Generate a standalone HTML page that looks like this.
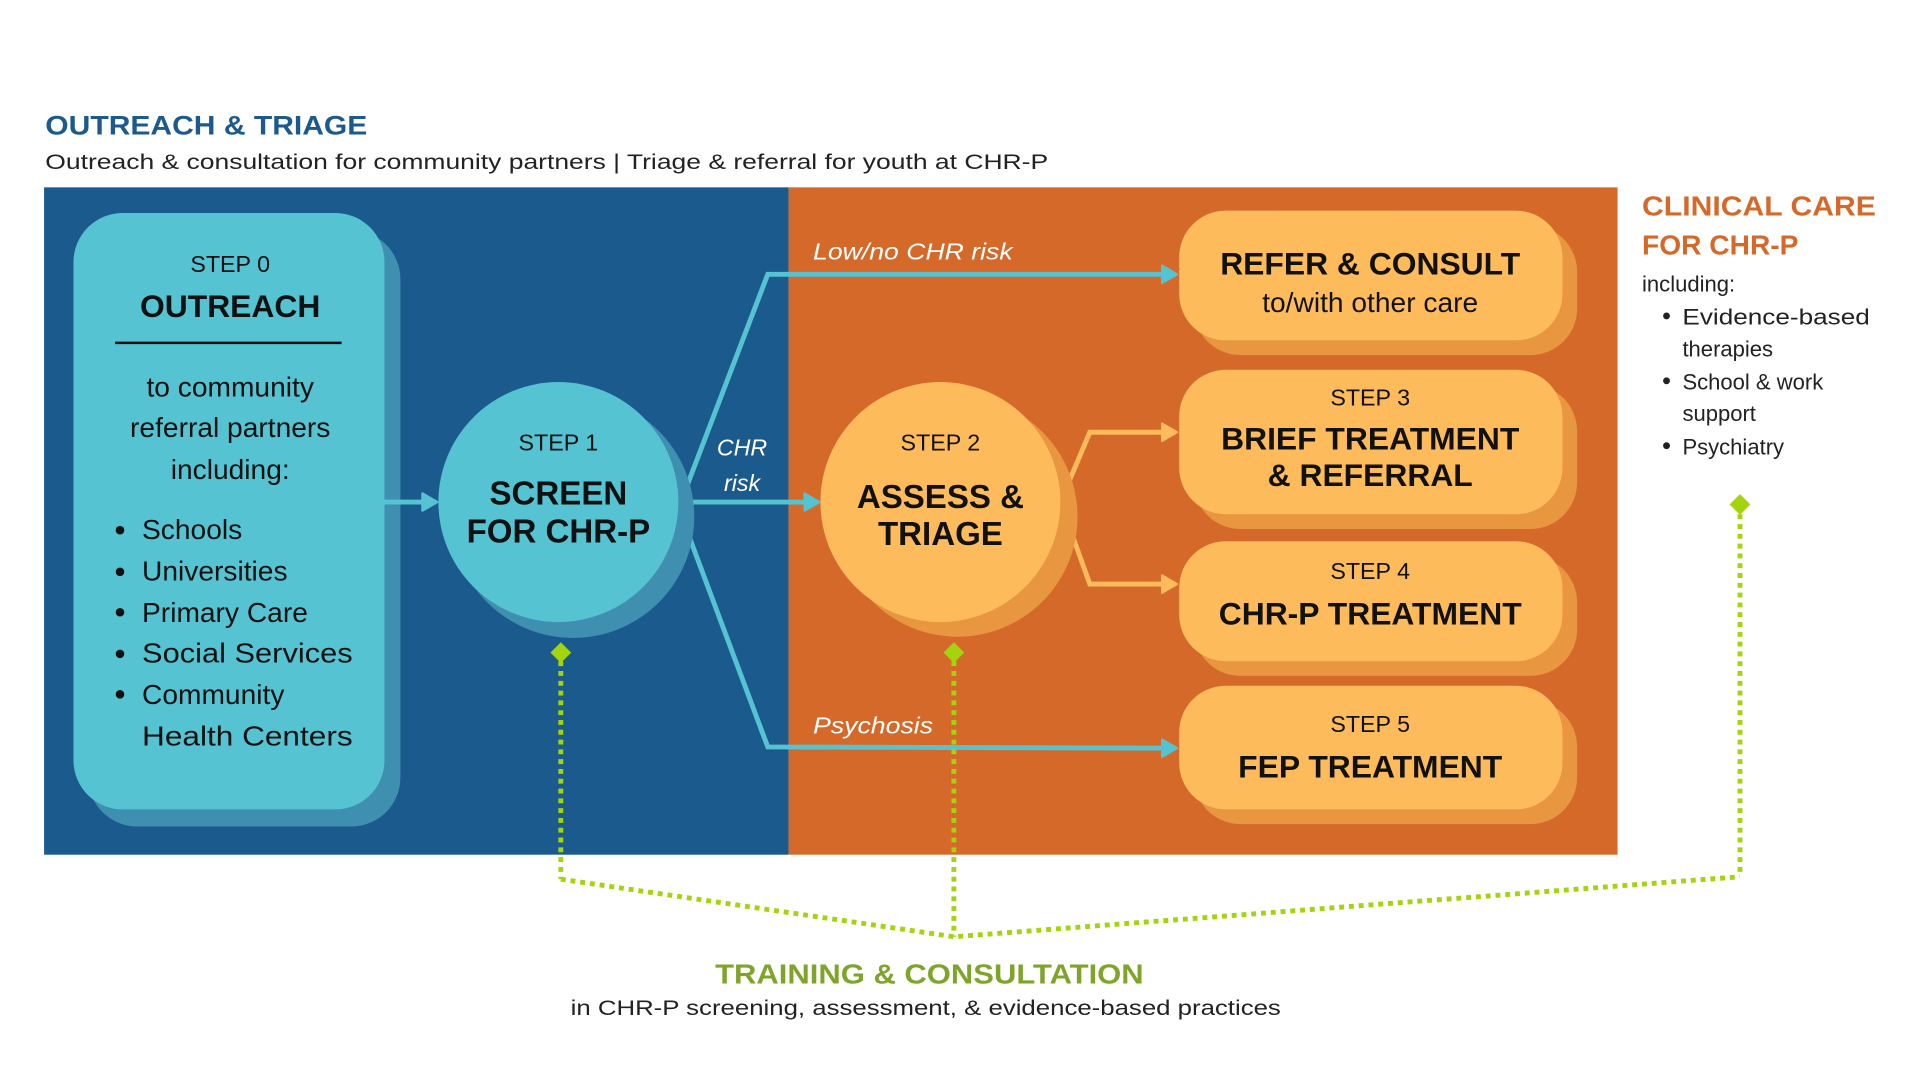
<!DOCTYPE html>
<html><head><meta charset="utf-8"><style>
html,body{margin:0;padding:0;background:#fff;}
svg{display:block;font-family:"Liberation Sans",sans-serif;}
</style></head><body>
<svg width="1920" height="1080" viewBox="0 0 1568 882" xmlns="http://www.w3.org/2000/svg">
<defs>
<marker id="ab" markerWidth="16" markerHeight="18" refX="12" refY="8" orient="auto" markerUnits="userSpaceOnUse"><path d="M1,1 L13,8 L1,15 z" fill="#55c3d1" stroke="#55c3d1" stroke-width="2" stroke-linejoin="round"/></marker>
<marker id="ao" markerWidth="16" markerHeight="18" refX="12" refY="8" orient="auto" markerUnits="userSpaceOnUse"><path d="M1,1 L13,8 L1,15 z" fill="#fdbb5c" stroke="#fdbb5c" stroke-width="2" stroke-linejoin="round"/></marker>
</defs>
<rect width="1568" height="882" fill="#fff"/>
<text x="37" y="110" font-size="22" font-weight="bold" fill="#1c5a8e" textLength="263" lengthAdjust="spacingAndGlyphs">OUTREACH &amp; TRIAGE</text>
<text x="37" y="138" font-size="17" fill="#222" textLength="819" lengthAdjust="spacingAndGlyphs">Outreach &amp; consultation for community partners | Triage &amp; referral for youth at CHR-P</text>
<rect x="36" y="153" width="608" height="545" fill="#1b5a8c"/>
<rect x="644" y="153" width="677" height="545" fill="#d4692a"/>
<!-- step 0 -->
<rect x="72" y="188" width="255" height="487" rx="40" fill="#3e8fb0"/>
<rect x="60" y="174" width="254" height="487" rx="40" fill="#55c3d1"/>
<g fill="#111" text-anchor="middle">
<text x="188" y="222" font-size="19">STEP 0</text>
<text x="188" y="259" font-size="26" font-weight="bold">OUTREACH</text>
<text x="188" y="324" font-size="23">to community</text>
<text x="188" y="357" font-size="23">referral partners</text>
<text x="188" y="391" font-size="23">including:</text>
</g>
<line x1="94" y1="280" x2="279" y2="280" stroke="#111" stroke-width="2"/>
<g fill="#111" font-size="23">
<text x="116" y="440">Schools</text><text x="116" y="474">Universities</text><text x="116" y="508">Primary Care</text>
<text x="116" y="541" textLength="172" lengthAdjust="spacingAndGlyphs">Social Services</text><text x="116" y="575">Community</text><text x="116" y="609" textLength="172" lengthAdjust="spacingAndGlyphs">Health Centers</text>
</g>
<g fill="#111"><circle cx="98" cy="433" r="3.5"/><circle cx="98" cy="467" r="3.5"/><circle cx="98" cy="500" r="3.5"/><circle cx="98" cy="534" r="3.5"/><circle cx="98" cy="567" r="3.5"/></g>
<!-- arrows blue -->
<g stroke="#55c3d1" stroke-width="4" fill="none">
<line x1="314" y1="410" x2="356" y2="410" marker-end="url(#ab)"/>
<polyline points="556,410 627,224 960,224" marker-end="url(#ab)"/>
<line x1="556" y1="410" x2="668" y2="410" marker-end="url(#ab)"/>
<polyline points="556,420 627,610 960,611" marker-end="url(#ab)"/>
</g>
<g fill="#fff" font-style="italic" font-size="19">
<text x="664" y="212" textLength="163" lengthAdjust="spacingAndGlyphs">Low/no CHR risk</text>
<text x="606" y="372" text-anchor="middle">CHR</text>
<text x="606" y="401" text-anchor="middle">risk</text>
<text x="664" y="599" textLength="98" lengthAdjust="spacingAndGlyphs">Psychosis</text>
</g>
<!-- circle 1 -->
<circle cx="468" cy="422" r="99" fill="#3e8fb0"/>
<circle cx="456" cy="410" r="98" fill="#55c3d1"/>
<g fill="#111" text-anchor="middle">
<text x="456" y="368" font-size="19">STEP 1</text>
<text x="456" y="412" font-size="27" font-weight="bold">SCREEN</text>
<text x="456" y="443" font-size="27" font-weight="bold">FOR CHR-P</text>
</g>
<!-- orange arrows -->
<g stroke="#fdbb5c" stroke-width="4" fill="none">
<polyline points="866,410 890,353 960,353" marker-end="url(#ao)"/>
<polyline points="866,410 890,477 960,477" marker-end="url(#ao)"/>
</g>
<circle cx="782" cy="422" r="98" fill="#e8963f"/>
<circle cx="768" cy="410" r="98" fill="#fdbb5c"/>
<g fill="#111" text-anchor="middle">
<text x="768" y="368" font-size="19">STEP 2</text>
<text x="768" y="415" font-size="27" font-weight="bold">ASSESS &amp;</text>
<text x="768" y="445" font-size="27" font-weight="bold">TRIAGE</text>
</g>
<!-- right cards -->
<g fill="#e8963f">
<rect x="975" y="184" width="313" height="106" rx="38"/>
<rect x="975" y="314" width="313" height="118" rx="38"/>
<rect x="975" y="454" width="313" height="98" rx="38"/>
<rect x="975" y="572" width="313" height="101" rx="38"/>
</g>
<g fill="#fdbb5c">
<rect x="963" y="172" width="313" height="106" rx="38"/>
<rect x="963" y="302" width="313" height="118" rx="38"/>
<rect x="963" y="442" width="313" height="98" rx="38"/>
<rect x="963" y="560" width="313" height="101" rx="38"/>
</g>
<g fill="#111" text-anchor="middle">
<text x="1119" y="224" font-size="26" font-weight="bold">REFER &amp; CONSULT</text>
<text x="1119" y="255" font-size="23">to/with other care</text>
<text x="1119" y="331" font-size="19">STEP 3</text>
<text x="1119" y="367" font-size="26" font-weight="bold">BRIEF TREATMENT</text>
<text x="1119" y="397" font-size="26" font-weight="bold">&amp; REFERRAL</text>
<text x="1119" y="473" font-size="19">STEP 4</text>
<text x="1119" y="510" font-size="26" font-weight="bold">CHR-P TREATMENT</text>
<text x="1119" y="598" font-size="19">STEP 5</text>
<text x="1119" y="635" font-size="26" font-weight="bold">FEP TREATMENT</text>
</g>
<!-- clinical care -->
<g fill="#d4692a" font-size="23" font-weight="bold">
<text x="1341" y="176" textLength="191" lengthAdjust="spacingAndGlyphs">CLINICAL CARE</text><text x="1341" y="208">FOR CHR-P</text>
</g>
<g fill="#222" font-size="18">
<text x="1341" y="238">including:</text>
<text x="1374" y="265" textLength="153" lengthAdjust="spacingAndGlyphs">Evidence-based</text><text x="1374" y="291">therapies</text>
<text x="1374" y="318">School &amp; work</text><text x="1374" y="344">support</text>
<text x="1374" y="371">Psychiatry</text>
</g>
<g fill="#222"><circle cx="1361" cy="258" r="2.8"/><circle cx="1361" cy="311" r="2.8"/><circle cx="1361" cy="364" r="2.8"/></g>
<!-- green dotted -->
<g stroke="#a3d40d" stroke-width="4" fill="none" stroke-dasharray="4 4">
<line x1="458" y1="540" x2="458" y2="718"/>
<line x1="779" y1="540" x2="779" y2="765"/>
<line x1="1421" y1="420" x2="1421" y2="716"/>
<polyline points="458,718 779,765 1421,716"/>
</g>
<g fill="#a3d40d">
<rect x="452" y="527" width="12" height="12" transform="rotate(45 458 533)"/>
<rect x="773" y="527" width="12" height="12" transform="rotate(45 779 533)"/>
<rect x="1415" y="406" width="12" height="12" transform="rotate(45 1421 412)"/>
</g>
<text x="759" y="803" text-anchor="middle" font-size="23" font-weight="bold" fill="#7ea52a" textLength="350" lengthAdjust="spacingAndGlyphs">TRAINING &amp; CONSULTATION</text>
<text x="756" y="829" text-anchor="middle" font-size="17" fill="#222" textLength="580" lengthAdjust="spacingAndGlyphs">in CHR-P screening, assessment, &amp; evidence-based practices</text>
</svg>
</body></html>
